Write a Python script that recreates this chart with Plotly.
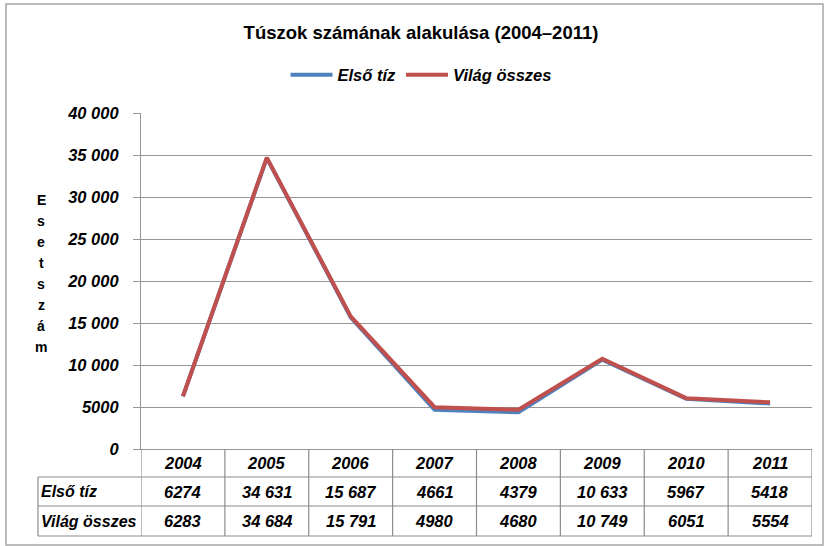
import plotly.graph_objects as go

# ---- data ----
years = ["2004", "2005", "2006", "2007", "2008", "2009", "2010", "2011"]
elso_tiz = [6274, 34631, 15687, 4661, 4379, 10633, 5967, 5418]
vilag_osszes = [6283, 34684, 15791, 4980, 4680, 10749, 6051, 5554]
series_names = ["Első tíz", "Világ összes"]
y_tick_vals = [0, 5000, 10000, 15000, 20000, 25000, 30000, 35000, 40000]
title_text = "Túszok számának alakulása (2004–2011)"
y_title = "Esetszám"


def fmt(v):
    return str(v) if v < 10000 else f"{v:,}".replace(",", " ")


# ---- geometry (pixels) ----
W, H = 824, 546
L, R, T, B = 141, 812, 113, 449


def xp(px):
    return (px - L) / (R - L)


def yp(py):
    return (B - py) / (B - T)


FONT = "Liberation Sans, Arial, sans-serif"
BLUE = "#4F81BD"
RED = "#C0504D"
GRID = "#969696"
TBL = "#8c8c8c"

fig = go.Figure()
fig.add_trace(go.Scatter(x=years, y=elso_tiz, mode="lines", name=f"<b><i>{series_names[0]}</i></b>",
                         line=dict(color=BLUE, width=4)))
fig.add_trace(go.Scatter(x=years, y=vilag_osszes, mode="lines", name=f"<b><i>{series_names[1]}</i></b>",
                         line=dict(color=RED, width=4)))

shapes = []
# outer border
shapes.append(dict(type="rect", xref="paper", yref="paper", x0=xp(6), x1=xp(823),
                   y0=yp(545), y1=yp(4), line=dict(color="#a6a6a6", width=1.5)))
# table horizontal lines
for py in [477, 506, 536]:
    shapes.append(dict(type="line", xref="paper", yref="paper", x0=xp(38), x1=1,
                       y0=yp(py), y1=yp(py), line=dict(color=TBL, width=1.2)))
# table vertical lines
for i in range(len(years) + 1):
    shapes.append(dict(type="line", xref="x", yref="paper", x0=i - 0.5, x1=i - 0.5,
                       y0=yp(536), y1=0, line=dict(color=TBL, width=1.2)))
shapes.append(dict(type="line", xref="paper", yref="paper", x0=xp(38), x1=xp(38),
                   y0=yp(536), y1=yp(477), line=dict(color=TBL, width=1.2)))

annotations = []
cell_font = dict(family=FONT, size=16.5, color="#000000")
row_y = [463, 491.5, 521]
for i, yr in enumerate(years):
    annotations.append(dict(x=i, y=yp(row_y[0]), xref="x", yref="paper", text=f"<b><i>{yr}</i></b>",
                            showarrow=False, font=cell_font, xanchor="center", yanchor="middle"))
    annotations.append(dict(x=i, y=yp(row_y[1]), xref="x", yref="paper", text=f"<b><i>{fmt(elso_tiz[i])}</i></b>",
                            showarrow=False, font=cell_font, xanchor="center", yanchor="middle"))
    annotations.append(dict(x=i, y=yp(row_y[2]), xref="x", yref="paper", text=f"<b><i>{fmt(vilag_osszes[i])}</i></b>",
                            showarrow=False, font=cell_font, xanchor="center", yanchor="middle"))
for name, ry in zip(series_names, row_y[1:]):
    annotations.append(dict(x=xp(39), y=yp(ry), xref="paper", yref="paper", text=f"<b><i>{name}</i></b>",
                            showarrow=False, font=dict(family=FONT, size=16, color="#000"),
                            xanchor="left", yanchor="middle"))
# vertical stacked axis title, one letter per line
for k, ch in enumerate(y_title):
    annotations.append(dict(x=xp(41), y=yp(200 + 21 * k), xref="paper", yref="paper",
                            text=f"<b>{ch}</b>", showarrow=False,
                            font=dict(family=FONT, size=14, color="#000"),
                            xanchor="center", yanchor="middle"))

fig.update_layout(
    width=W, height=H,
    margin=dict(l=L, r=W - R, t=T, b=H - B),
    paper_bgcolor="white", plot_bgcolor="white",
    title=dict(text=f"<b>{title_text}</b>", xref="container", x=421 / W, xanchor="center",
               y=1 - 33 / H, yanchor="middle",
               font=dict(family=FONT, size=18.5, color="#000")),
    legend=dict(orientation="h", x=xp(421), xanchor="center", y=yp(75), yanchor="middle",
                font=dict(family=FONT, size=16.5, color="#000"), itemwidth=42,
                bgcolor="rgba(0,0,0,0)"),
    showlegend=True,
    xaxis=dict(type="category", range=[-0.5, len(years) - 0.5], showticklabels=False,
               showgrid=False, showline=True, linecolor=GRID, linewidth=1.2, ticks="", zeroline=False),
    yaxis=dict(range=[0, 40000], tickvals=y_tick_vals,
               ticktext=[f"<b><i>{fmt(v)}</i></b>" for v in y_tick_vals],
               tickfont=dict(family=FONT, size=16.5, color="#000"),
               showgrid=True, gridcolor=GRID, gridwidth=1.2, zeroline=False,
               showline=True, linecolor=GRID, linewidth=1.2,
               ticks="outside", ticklen=7, tickcolor=GRID, ticklabelstandoff=11),
    shapes=shapes, annotations=annotations,
)

fig.write_html("out.html", config={"displayModeBar": False},
               post_script="document.body.style.margin='0';")
